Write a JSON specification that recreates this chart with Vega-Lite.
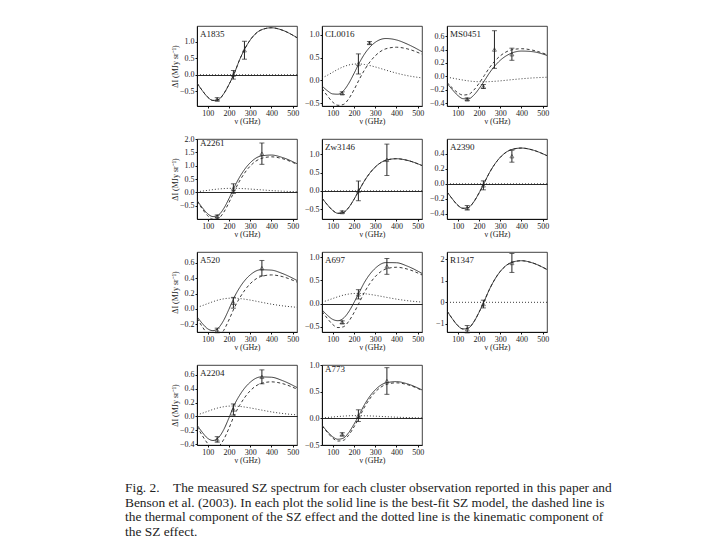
{
"$schema":"https://vega.github.io/schema/vega-lite/v6.json",
"padding":{"left":125,"top":25,"right":5,"bottom":0},
"config":{
 "view":{"stroke":"#111","strokeWidth":0.8},
 "mark":{"invalid":"filter"},
 "axis":{"labelFont":"Liberation Serif","labelFontSize":8,"labelColor":"#222","titleFont":"Liberation Serif","titleFontSize":8,"titleFontWeight":"normal","titleColor":"#222","domainColor":"#111","tickColor":"#111","tickSize":2,"grid":false,"labelPadding":1,"titlePadding":0,"labelOverlap":false,"labelFlush":false},
 "title":{"anchor":"start","frame":"group","offset":-13,"dx":3,"fontSize":9,"font":"Liberation Serif","fontWeight":"normal","color":"#222"}
},
"title":{"text":["Fig. 2.\u00a0\u00a0\u00a0\u00a0The measured SZ spectrum for each cluster observation reported in this paper and","Benson et al. (2003). In each plot the solid line is the best-fit SZ model, the dashed line is","the thermal component of the SZ effect and the dotted line is the kinematic component of","the SZ effect."],"orient":"bottom","anchor":"start","frame":"group","offset":17,"dx":-72,"fontSize":13.4,"lineHeight":14.5,"font":"Liberation Serif","fontWeight":"normal","color":"#222"},
"data":{"values":[
{"p":"A1835","nu":50,"tot":-0.25,"th":-0.25,"kin":0},{"p":"A1835","nu":75,"tot":-0.476,"th":-0.476,"kin":0},{"p":"A1835","nu":100,"tot":-0.671,"th":-0.671,"kin":0},{"p":"A1835","nu":125,"tot":-0.772,"th":-0.772,"kin":0},{"p":"A1835","nu":150,"tot":-0.749,"th":-0.749,"kin":0},{"p":"A1835","nu":175,"tot":-0.577,"th":-0.577,"kin":0},{"p":"A1835","nu":200,"tot":-0.296,"th":-0.296,"kin":0},{"p":"A1835","nu":225,"tot":0.04,"th":0.04,"kin":0},{"p":"A1835","nu":250,"tot":0.449,"th":0.449,"kin":0},{"p":"A1835","nu":300,"tot":1.048,"th":1.048,"kin":0},{"p":"A1835","nu":350,"tot":1.347,"th":1.347,"kin":0},{"p":"A1835","nu":400,"tot":1.417,"th":1.417,"kin":0},{"p":"A1835","nu":450,"tot":1.347,"th":1.347,"kin":0},{"p":"A1835","nu":520,"tot":1.118,"th":1.118,"kin":0},
{"p":"CL0016","nu":50,"tot":-0.122,"th":-0.176,"kin":0.054},{"p":"CL0016","nu":75,"tot":-0.224,"th":-0.336,"kin":0.112},{"p":"CL0016","nu":100,"tot":-0.295,"th":-0.473,"kin":0.178},{"p":"CL0016","nu":125,"tot":-0.302,"th":-0.545,"kin":0.243},{"p":"CL0016","nu":150,"tot":-0.231,"th":-0.528,"kin":0.297},{"p":"CL0016","nu":175,"tot":-0.071,"th":-0.407,"kin":0.336},{"p":"CL0016","nu":200,"tot":0.147,"th":-0.209,"kin":0.356},{"p":"CL0016","nu":225,"tot":0.38,"th":0.02,"kin":0.36},{"p":"CL0016","nu":250,"tot":0.578,"th":0.23,"kin":0.348},{"p":"CL0016","nu":300,"tot":0.832,"th":0.537,"kin":0.295},{"p":"CL0016","nu":350,"tot":0.916,"th":0.691,"kin":0.225},{"p":"CL0016","nu":400,"tot":0.885,"th":0.726,"kin":0.159},{"p":"CL0016","nu":450,"tot":0.796,"th":0.691,"kin":0.105},{"p":"CL0016","nu":520,"tot":0.628,"th":0.573,"kin":0.055},
{"p":"MS0451","nu":50,"tot":-0.102,"th":-0.09,"kin":-0.012},{"p":"MS0451","nu":75,"tot":-0.196,"th":-0.171,"kin":-0.025},{"p":"MS0451","nu":100,"tot":-0.281,"th":-0.241,"kin":-0.04},{"p":"MS0451","nu":125,"tot":-0.331,"th":-0.277,"kin":-0.054},{"p":"MS0451","nu":150,"tot":-0.335,"th":-0.269,"kin":-0.066},{"p":"MS0451","nu":175,"tot":-0.282,"th":-0.207,"kin":-0.075},{"p":"MS0451","nu":200,"tot":-0.185,"th":-0.106,"kin":-0.079},{"p":"MS0451","nu":225,"tot":-0.068,"th":0.012,"kin":-0.08},{"p":"MS0451","nu":250,"tot":0.054,"th":0.131,"kin":-0.077},{"p":"MS0451","nu":300,"tot":0.239,"th":0.305,"kin":-0.066},{"p":"MS0451","nu":350,"tot":0.342,"th":0.392,"kin":-0.05},{"p":"MS0451","nu":400,"tot":0.377,"th":0.412,"kin":-0.035},{"p":"MS0451","nu":450,"tot":0.369,"th":0.392,"kin":-0.023},{"p":"MS0451","nu":520,"tot":0.313,"th":0.325,"kin":-0.012},
{"p":"A2261","nu":50,"tot":-0.304,"th":-0.326,"kin":0.022},{"p":"A2261","nu":75,"tot":-0.575,"th":-0.622,"kin":0.047},{"p":"A2261","nu":100,"tot":-0.803,"th":-0.877,"kin":0.074},{"p":"A2261","nu":125,"tot":-0.909,"th":-1.01,"kin":0.101},{"p":"A2261","nu":150,"tot":-0.855,"th":-0.979,"kin":0.124},{"p":"A2261","nu":175,"tot":-0.615,"th":-0.755,"kin":0.14},{"p":"A2261","nu":200,"tot":-0.239,"th":-0.388,"kin":0.149},{"p":"A2261","nu":225,"tot":0.188,"th":0.038,"kin":0.15},{"p":"A2261","nu":250,"tot":0.567,"th":0.422,"kin":0.145},{"p":"A2261","nu":300,"tot":1.108,"th":0.985,"kin":0.123},{"p":"A2261","nu":350,"tot":1.36,"th":1.266,"kin":0.094},{"p":"A2261","nu":400,"tot":1.398,"th":1.332,"kin":0.066},{"p":"A2261","nu":450,"tot":1.31,"th":1.266,"kin":0.044},{"p":"A2261","nu":520,"tot":1.074,"th":1.051,"kin":0.023},
{"p":"Zw3146","nu":50,"tot":-0.198,"th":-0.198,"kin":0},{"p":"Zw3146","nu":75,"tot":-0.378,"th":-0.378,"kin":0},{"p":"Zw3146","nu":100,"tot":-0.533,"th":-0.533,"kin":0},{"p":"Zw3146","nu":125,"tot":-0.614,"th":-0.614,"kin":0},{"p":"Zw3146","nu":150,"tot":-0.595,"th":-0.595,"kin":0},{"p":"Zw3146","nu":175,"tot":-0.459,"th":-0.459,"kin":0},{"p":"Zw3146","nu":200,"tot":-0.236,"th":-0.236,"kin":0},{"p":"Zw3146","nu":225,"tot":0.025,"th":0.025,"kin":0},{"p":"Zw3146","nu":250,"tot":0.279,"th":0.279,"kin":0},{"p":"Zw3146","nu":300,"tot":0.651,"th":0.651,"kin":0},{"p":"Zw3146","nu":350,"tot":0.837,"th":0.837,"kin":0},{"p":"Zw3146","nu":400,"tot":0.88,"th":0.88,"kin":0},{"p":"Zw3146","nu":450,"tot":0.837,"th":0.837,"kin":0},{"p":"Zw3146","nu":520,"tot":0.694,"th":0.694,"kin":0},
{"p":"A2390","nu":50,"tot":-0.106,"th":-0.106,"kin":0},{"p":"A2390","nu":75,"tot":-0.201,"th":-0.201,"kin":0},{"p":"A2390","nu":100,"tot":-0.284,"th":-0.284,"kin":0},{"p":"A2390","nu":125,"tot":-0.327,"th":-0.327,"kin":0},{"p":"A2390","nu":150,"tot":-0.317,"th":-0.317,"kin":0},{"p":"A2390","nu":175,"tot":-0.244,"th":-0.244,"kin":0},{"p":"A2390","nu":200,"tot":-0.125,"th":-0.125,"kin":0},{"p":"A2390","nu":225,"tot":0.013,"th":0.013,"kin":0},{"p":"A2390","nu":250,"tot":0.152,"th":0.152,"kin":0},{"p":"A2390","nu":300,"tot":0.354,"th":0.354,"kin":0},{"p":"A2390","nu":350,"tot":0.455,"th":0.455,"kin":0},{"p":"A2390","nu":400,"tot":0.479,"th":0.479,"kin":0},{"p":"A2390","nu":450,"tot":0.455,"th":0.455,"kin":0},{"p":"A2390","nu":520,"tot":0.377,"th":0.377,"kin":0},
{"p":"A520","nu":50,"tot":-0.101,"th":-0.122,"kin":0.021},{"p":"A520","nu":75,"tot":-0.189,"th":-0.232,"kin":0.043},{"p":"A520","nu":100,"tot":-0.258,"th":-0.327,"kin":0.069},{"p":"A520","nu":125,"tot":-0.282,"th":-0.376,"kin":0.094},{"p":"A520","nu":150,"tot":-0.249,"th":-0.365,"kin":0.116},{"p":"A520","nu":175,"tot":-0.15,"th":-0.281,"kin":0.131},{"p":"A520","nu":200,"tot":-0.005,"th":-0.144,"kin":0.139},{"p":"A520","nu":225,"tot":0.152,"th":0.012,"kin":0.14},{"p":"A520","nu":250,"tot":0.275,"th":0.14,"kin":0.135},{"p":"A520","nu":300,"tot":0.442,"th":0.327,"kin":0.115},{"p":"A520","nu":350,"tot":0.509,"th":0.421,"kin":0.088},{"p":"A520","nu":400,"tot":0.504,"th":0.442,"kin":0.062},{"p":"A520","nu":450,"tot":0.462,"th":0.421,"kin":0.041},{"p":"A520","nu":520,"tot":0.37,"th":0.349,"kin":0.021},
{"p":"A697","nu":50,"tot":-0.133,"th":-0.166,"kin":0.033},{"p":"A697","nu":75,"tot":-0.249,"th":-0.317,"kin":0.068},{"p":"A697","nu":100,"tot":-0.338,"th":-0.447,"kin":0.109},{"p":"A697","nu":125,"tot":-0.367,"th":-0.515,"kin":0.148},{"p":"A697","nu":150,"tot":-0.317,"th":-0.499,"kin":0.182},{"p":"A697","nu":175,"tot":-0.18,"th":-0.385,"kin":0.205},{"p":"A697","nu":200,"tot":0.02,"th":-0.198,"kin":0.218},{"p":"A697","nu":225,"tot":0.242,"th":0.022,"kin":0.22},{"p":"A697","nu":250,"tot":0.461,"th":0.248,"kin":0.213},{"p":"A697","nu":300,"tot":0.759,"th":0.579,"kin":0.18},{"p":"A697","nu":350,"tot":0.882,"th":0.744,"kin":0.138},{"p":"A697","nu":400,"tot":0.879,"th":0.782,"kin":0.097},{"p":"A697","nu":450,"tot":0.808,"th":0.744,"kin":0.064},{"p":"A697","nu":520,"tot":0.65,"th":0.617,"kin":0.033},
{"p":"R1347","nu":50,"tot":-0.4,"th":-0.4,"kin":0},{"p":"R1347","nu":75,"tot":-0.763,"th":-0.763,"kin":0},{"p":"R1347","nu":100,"tot":-1.075,"th":-1.075,"kin":0},{"p":"R1347","nu":125,"tot":-1.238,"th":-1.238,"kin":0},{"p":"R1347","nu":150,"tot":-1.2,"th":-1.2,"kin":0},{"p":"R1347","nu":175,"tot":-0.925,"th":-0.925,"kin":0},{"p":"R1347","nu":200,"tot":-0.475,"th":-0.475,"kin":0},{"p":"R1347","nu":225,"tot":0.055,"th":0.055,"kin":0},{"p":"R1347","nu":250,"tot":0.613,"th":0.613,"kin":0},{"p":"R1347","nu":300,"tot":1.431,"th":1.431,"kin":0},{"p":"R1347","nu":350,"tot":1.839,"th":1.839,"kin":0},{"p":"R1347","nu":400,"tot":1.935,"th":1.935,"kin":0},{"p":"R1347","nu":450,"tot":1.839,"th":1.839,"kin":0},{"p":"R1347","nu":520,"tot":1.526,"th":1.526,"kin":0},
{"p":"A2204","nu":50,"tot":-0.122,"th":-0.144,"kin":0.022},{"p":"A2204","nu":75,"tot":-0.228,"th":-0.275,"kin":0.047},{"p":"A2204","nu":100,"tot":-0.313,"th":-0.387,"kin":0.074},{"p":"A2204","nu":125,"tot":-0.345,"th":-0.446,"kin":0.101},{"p":"A2204","nu":150,"tot":-0.308,"th":-0.432,"kin":0.124},{"p":"A2204","nu":175,"tot":-0.193,"th":-0.333,"kin":0.14},{"p":"A2204","nu":200,"tot":-0.022,"th":-0.171,"kin":0.149},{"p":"A2204","nu":225,"tot":0.164,"th":0.014,"kin":0.15},{"p":"A2204","nu":250,"tot":0.303,"th":0.158,"kin":0.145},{"p":"A2204","nu":300,"tot":0.492,"th":0.369,"kin":0.123},{"p":"A2204","nu":350,"tot":0.568,"th":0.474,"kin":0.094},{"p":"A2204","nu":400,"tot":0.564,"th":0.498,"kin":0.066},{"p":"A2204","nu":450,"tot":0.518,"th":0.474,"kin":0.044},{"p":"A2204","nu":520,"tot":0.416,"th":0.393,"kin":0.023},
{"p":"A773","nu":50,"tot":-0.131,"th":-0.138,"kin":0.007},{"p":"A773","nu":75,"tot":-0.246,"th":-0.262,"kin":0.016},{"p":"A773","nu":100,"tot":-0.345,"th":-0.37,"kin":0.025},{"p":"A773","nu":125,"tot":-0.392,"th":-0.426,"kin":0.034},{"p":"A773","nu":150,"tot":-0.372,"th":-0.413,"kin":0.041},{"p":"A773","nu":175,"tot":-0.271,"th":-0.318,"kin":0.047},{"p":"A773","nu":200,"tot":-0.113,"th":-0.163,"kin":0.05},{"p":"A773","nu":225,"tot":0.069,"th":0.019,"kin":0.05},{"p":"A773","nu":250,"tot":0.259,"th":0.211,"kin":0.048},{"p":"A773","nu":300,"tot":0.533,"th":0.492,"kin":0.041},{"p":"A773","nu":350,"tot":0.664,"th":0.633,"kin":0.031},{"p":"A773","nu":400,"tot":0.688,"th":0.666,"kin":0.022},{"p":"A773","nu":450,"tot":0.648,"th":0.633,"kin":0.015},{"p":"A773","nu":520,"tot":0.533,"th":0.525,"kin":0.008},
{"p":"A1835","nu":145,"v":-0.74,"lo":-0.79,"hi":-0.69},{"p":"A1835","nu":221,"v":0.0,"lo":-0.13,"hi":0.13},{"p":"A1835","nu":273,"v":0.74,"lo":0.47,"hi":1.01},
{"p":"CL0016","nu":145,"v":-0.28,"lo":-0.31,"hi":-0.25},{"p":"CL0016","nu":221,"v":0.36,"lo":0.14,"hi":0.58},{"p":"CL0016","nu":273,"v":0.82,"lo":0.79,"hi":0.85},
{"p":"MS0451","nu":145,"v":-0.34,"lo":-0.36,"hi":-0.32},{"p":"MS0451","nu":221,"v":-0.15,"lo":-0.18,"hi":-0.12},{"p":"MS0451","nu":273,"v":0.4,"lo":0.12,"hi":0.68},{"p":"MS0451","nu":355,"v":0.33,"lo":0.24,"hi":0.42},
{"p":"A2261","nu":145,"v":-0.9,"lo":-0.95,"hi":-0.85},{"p":"A2261","nu":221,"v":0.14,"lo":-0.04,"hi":0.32},{"p":"A2261","nu":355,"v":1.45,"lo":1.05,"hi":1.85},
{"p":"Zw3146","nu":145,"v":-0.58,"lo":-0.61,"hi":-0.55},{"p":"Zw3146","nu":221,"v":0.0,"lo":-0.27,"hi":0.27},{"p":"Zw3146","nu":355,"v":0.85,"lo":0.42,"hi":1.28},
{"p":"A2390","nu":145,"v":-0.32,"lo":-0.35,"hi":-0.29},{"p":"A2390","nu":221,"v":-0.02,"lo":-0.08,"hi":0.04},{"p":"A2390","nu":355,"v":0.37,"lo":0.29,"hi":0.45},
{"p":"A520","nu":145,"v":-0.28,"lo":-0.31,"hi":-0.25},{"p":"A520","nu":221,"v":0.08,"lo":0.01,"hi":0.15},{"p":"A520","nu":355,"v":0.53,"lo":0.43,"hi":0.63},
{"p":"A697","nu":145,"v":-0.4,"lo":-0.43,"hi":-0.37},{"p":"A697","nu":221,"v":0.2,"lo":0.1,"hi":0.3},{"p":"A697","nu":355,"v":0.8,"lo":0.63,"hi":0.97},
{"p":"R1347","nu":145,"v":-1.25,"lo":-1.42,"hi":-1.08},{"p":"R1347","nu":221,"v":-0.08,"lo":-0.26,"hi":0.1},{"p":"R1347","nu":355,"v":1.83,"lo":1.39,"hi":2.27},
{"p":"A2204","nu":145,"v":-0.33,"lo":-0.37,"hi":-0.29},{"p":"A2204","nu":221,"v":0.1,"lo":0.02,"hi":0.18},{"p":"A2204","nu":355,"v":0.57,"lo":0.47,"hi":0.67},
{"p":"A773","nu":145,"v":-0.3,"lo":-0.33,"hi":-0.27},{"p":"A773","nu":221,"v":0.05,"lo":-0.06,"hi":0.16},{"p":"A773","nu":355,"v":0.7,"lo":0.45,"hi":0.95}
]},
"columns":3,
"spacing":{"row":33,"column":25},
"bounds":"flush",
"concat":[
 {"width":100,"height":80,"title":{"text":"A1835"},"transform":[{"filter":"datum.p==='A1835'"}],
  "encoding":{"x":{"field":"nu","type":"quantitative","scale":{"domain":[50,520],"nice":false},"axis":{"values":[100,200,300,400,500],"title":"ν (GHz)"}}},
  "layer":[
   {"transform":[{"fold":["tot","th","kin"],"as":["s","val"]}],"mark":{"type":"line","interpolate":"monotone","clip":true,"strokeWidth":0.9,"color":"#222"},
    "encoding":{"y":{"field":"val","type":"quantitative","scale":{"domain":[-0.94,1.47],"nice":false,"zero":false},"axis":{"values":[-0.5,0,0.5,1],"format":".1f","title":"ΔI (MJy sr⁻¹)","grid":true,"gridColor":"#111","gridWidth":0.9,"gridOpacity":{"condition":{"test":"datum.value === 0","value":1},"value":0}}},
     "strokeDash":{"field":"s","type":"nominal","scale":{"domain":["tot","th","kin"],"range":[[1,0],[3,2.5],[1,2]]},"legend":null}}},
   {"mark":{"type":"errorbar","ticks":{"size":5},"color":"#222"},"encoding":{"y":{"field":"lo","type":"quantitative","scale":{"domain":[-0.94,1.47],"nice":false,"zero":false},"axis":{"values":[-0.5,0,0.5,1],"format":".1f","title":"ΔI (MJy sr⁻¹)","grid":true,"gridColor":"#111","gridWidth":0.9,"gridOpacity":{"condition":{"test":"datum.value === 0","value":1},"value":0}}},"y2":{"field":"hi"}}},
   {"mark":{"type":"point","shape":"triangle-up","size":16,"color":"#222","strokeWidth":0.8,"filled":false},"encoding":{"y":{"field":"v","type":"quantitative","scale":{"domain":[-0.94,1.47],"nice":false,"zero":false},"axis":{"values":[-0.5,0,0.5,1],"format":".1f","title":"ΔI (MJy sr⁻¹)","grid":true,"gridColor":"#111","gridWidth":0.9,"gridOpacity":{"condition":{"test":"datum.value === 0","value":1},"value":0}}}}}
  ]},
 {"width":100,"height":80,"title":{"text":"CL0016"},"transform":[{"filter":"datum.p==='CL0016'"}],
  "encoding":{"x":{"field":"nu","type":"quantitative","scale":{"domain":[50,520],"nice":false},"axis":{"values":[100,200,300,400,500],"title":"ν (GHz)"}}},
  "layer":[
   {"transform":[{"fold":["tot","th","kin"],"as":["s","val"]}],"mark":{"type":"line","interpolate":"monotone","clip":true,"strokeWidth":0.9,"color":"#222"},
    "encoding":{"y":{"field":"val","type":"quantitative","scale":{"domain":[-0.56,1.19],"nice":false,"zero":false},"axis":{"values":[-0.5,0,0.5,1],"format":".1f","title":null}},
     "strokeDash":{"field":"s","type":"nominal","scale":{"domain":["tot","th","kin"],"range":[[1,0],[3,2.5],[1,2]]},"legend":null}}},
   {"mark":{"type":"errorbar","ticks":{"size":5},"color":"#222"},"encoding":{"y":{"field":"lo","type":"quantitative","scale":{"domain":[-0.56,1.19],"nice":false,"zero":false},"axis":{"values":[-0.5,0,0.5,1],"format":".1f","title":null}},"y2":{"field":"hi"}}},
   {"mark":{"type":"point","shape":"triangle-up","size":16,"color":"#222","strokeWidth":0.8,"filled":false},"encoding":{"y":{"field":"v","type":"quantitative","scale":{"domain":[-0.56,1.19],"nice":false,"zero":false},"axis":{"values":[-0.5,0,0.5,1],"format":".1f","title":null}}}}
  ]},
 {"width":100,"height":80,"title":{"text":"MS0451"},"transform":[{"filter":"datum.p==='MS0451'"}],
  "encoding":{"x":{"field":"nu","type":"quantitative","scale":{"domain":[50,520],"nice":false},"axis":{"values":[100,200,300,400,500],"title":"ν (GHz)"}}},
  "layer":[
   {"transform":[{"fold":["tot","th","kin"],"as":["s","val"]}],"mark":{"type":"line","interpolate":"monotone","clip":true,"strokeWidth":0.9,"color":"#222"},
    "encoding":{"y":{"field":"val","type":"quantitative","scale":{"domain":[-0.44,0.75],"nice":false,"zero":false},"axis":{"values":[-0.4,-0.2,0,0.2,0.4,0.6],"format":".1f","title":null}},
     "strokeDash":{"field":"s","type":"nominal","scale":{"domain":["tot","th","kin"],"range":[[1,0],[3,2.5],[1,2]]},"legend":null}}},
   {"mark":{"type":"errorbar","ticks":{"size":5},"color":"#222"},"encoding":{"y":{"field":"lo","type":"quantitative","scale":{"domain":[-0.44,0.75],"nice":false,"zero":false},"axis":{"values":[-0.4,-0.2,0,0.2,0.4,0.6],"format":".1f","title":null}},"y2":{"field":"hi"}}},
   {"mark":{"type":"point","shape":"triangle-up","size":16,"color":"#222","strokeWidth":0.8,"filled":false},"encoding":{"y":{"field":"v","type":"quantitative","scale":{"domain":[-0.44,0.75],"nice":false,"zero":false},"axis":{"values":[-0.4,-0.2,0,0.2,0.4,0.6],"format":".1f","title":null}}}}
  ]},
 {"width":100,"height":80,"title":{"text":"A2261"},"transform":[{"filter":"datum.p==='A2261'"}],
  "encoding":{"x":{"field":"nu","type":"quantitative","scale":{"domain":[50,520],"nice":false},"axis":{"values":[100,200,300,400,500],"title":"ν (GHz)"}}},
  "layer":[
   {"transform":[{"fold":["tot","th","kin"],"as":["s","val"]}],"mark":{"type":"line","interpolate":"monotone","clip":true,"strokeWidth":0.9,"color":"#222"},
    "encoding":{"y":{"field":"val","type":"quantitative","scale":{"domain":[-1.0,2.0],"nice":false,"zero":false},"axis":{"values":[-0.5,0,0.5,1,1.5,2],"format":".1f","title":"ΔI (MJy sr⁻¹)","grid":true,"gridColor":"#111","gridWidth":0.9,"gridOpacity":{"condition":{"test":"datum.value === 0","value":1},"value":0}}},
     "strokeDash":{"field":"s","type":"nominal","scale":{"domain":["tot","th","kin"],"range":[[1,0],[3,2.5],[1,2]]},"legend":null}}},
   {"mark":{"type":"errorbar","ticks":{"size":5},"color":"#222"},"encoding":{"y":{"field":"lo","type":"quantitative","scale":{"domain":[-1.0,2.0],"nice":false,"zero":false},"axis":{"values":[-0.5,0,0.5,1,1.5,2],"format":".1f","title":"ΔI (MJy sr⁻¹)","grid":true,"gridColor":"#111","gridWidth":0.9,"gridOpacity":{"condition":{"test":"datum.value === 0","value":1},"value":0}}},"y2":{"field":"hi"}}},
   {"mark":{"type":"point","shape":"triangle-up","size":16,"color":"#222","strokeWidth":0.8,"filled":false},"encoding":{"y":{"field":"v","type":"quantitative","scale":{"domain":[-1.0,2.0],"nice":false,"zero":false},"axis":{"values":[-0.5,0,0.5,1,1.5,2],"format":".1f","title":"ΔI (MJy sr⁻¹)","grid":true,"gridColor":"#111","gridWidth":0.9,"gridOpacity":{"condition":{"test":"datum.value === 0","value":1},"value":0}}}}}
  ]},
 {"width":100,"height":80,"title":{"text":"Zw3146"},"transform":[{"filter":"datum.p==='Zw3146'"}],
  "encoding":{"x":{"field":"nu","type":"quantitative","scale":{"domain":[50,520],"nice":false},"axis":{"values":[100,200,300,400,500],"title":"ν (GHz)"}}},
  "layer":[
   {"transform":[{"fold":["tot","th","kin"],"as":["s","val"]}],"mark":{"type":"line","interpolate":"monotone","clip":true,"strokeWidth":0.9,"color":"#222"},
    "encoding":{"y":{"field":"val","type":"quantitative","scale":{"domain":[-0.77,1.42],"nice":false,"zero":false},"axis":{"values":[-0.5,0,0.5,1],"format":".1f","title":null,"grid":true,"gridColor":"#111","gridWidth":0.9,"gridOpacity":{"condition":{"test":"datum.value === 0","value":1},"value":0}}},
     "strokeDash":{"field":"s","type":"nominal","scale":{"domain":["tot","th","kin"],"range":[[1,0],[3,2.5],[1,2]]},"legend":null}}},
   {"mark":{"type":"errorbar","ticks":{"size":5},"color":"#222"},"encoding":{"y":{"field":"lo","type":"quantitative","scale":{"domain":[-0.77,1.42],"nice":false,"zero":false},"axis":{"values":[-0.5,0,0.5,1],"format":".1f","title":null,"grid":true,"gridColor":"#111","gridWidth":0.9,"gridOpacity":{"condition":{"test":"datum.value === 0","value":1},"value":0}}},"y2":{"field":"hi"}}},
   {"mark":{"type":"point","shape":"triangle-up","size":16,"color":"#222","strokeWidth":0.8,"filled":false},"encoding":{"y":{"field":"v","type":"quantitative","scale":{"domain":[-0.77,1.42],"nice":false,"zero":false},"axis":{"values":[-0.5,0,0.5,1],"format":".1f","title":null,"grid":true,"gridColor":"#111","gridWidth":0.9,"gridOpacity":{"condition":{"test":"datum.value === 0","value":1},"value":0}}}}}
  ]},
 {"width":100,"height":80,"title":{"text":"A2390"},"transform":[{"filter":"datum.p==='A2390'"}],
  "encoding":{"x":{"field":"nu","type":"quantitative","scale":{"domain":[50,520],"nice":false},"axis":{"values":[100,200,300,400,500],"title":"ν (GHz)"}}},
  "layer":[
   {"transform":[{"fold":["tot","th","kin"],"as":["s","val"]}],"mark":{"type":"line","interpolate":"monotone","clip":true,"strokeWidth":0.9,"color":"#222"},
    "encoding":{"y":{"field":"val","type":"quantitative","scale":{"domain":[-0.47,0.6],"nice":false,"zero":false},"axis":{"values":[-0.4,-0.2,0,0.2,0.4],"format":".1f","title":null,"grid":true,"gridColor":"#111","gridWidth":0.9,"gridOpacity":{"condition":{"test":"datum.value === 0","value":1},"value":0}}},
     "strokeDash":{"field":"s","type":"nominal","scale":{"domain":["tot","th","kin"],"range":[[1,0],[3,2.5],[1,2]]},"legend":null}}},
   {"mark":{"type":"errorbar","ticks":{"size":5},"color":"#222"},"encoding":{"y":{"field":"lo","type":"quantitative","scale":{"domain":[-0.47,0.6],"nice":false,"zero":false},"axis":{"values":[-0.4,-0.2,0,0.2,0.4],"format":".1f","title":null,"grid":true,"gridColor":"#111","gridWidth":0.9,"gridOpacity":{"condition":{"test":"datum.value === 0","value":1},"value":0}}},"y2":{"field":"hi"}}},
   {"mark":{"type":"point","shape":"triangle-up","size":16,"color":"#222","strokeWidth":0.8,"filled":false},"encoding":{"y":{"field":"v","type":"quantitative","scale":{"domain":[-0.47,0.6],"nice":false,"zero":false},"axis":{"values":[-0.4,-0.2,0,0.2,0.4],"format":".1f","title":null,"grid":true,"gridColor":"#111","gridWidth":0.9,"gridOpacity":{"condition":{"test":"datum.value === 0","value":1},"value":0}}}}}
  ]},
 {"width":100,"height":80,"title":{"text":"A520"},"transform":[{"filter":"datum.p==='A520'"}],
  "encoding":{"x":{"field":"nu","type":"quantitative","scale":{"domain":[50,520],"nice":false},"axis":{"values":[100,200,300,400,500],"title":"ν (GHz)"}}},
  "layer":[
   {"transform":[{"fold":["tot","th","kin"],"as":["s","val"]}],"mark":{"type":"line","interpolate":"monotone","clip":true,"strokeWidth":0.9,"color":"#222"},
    "encoding":{"y":{"field":"val","type":"quantitative","scale":{"domain":[-0.3,0.74],"nice":false,"zero":false},"axis":{"values":[-0.2,0,0.2,0.4,0.6],"format":".1f","title":"ΔI (MJy sr⁻¹)"}},
     "strokeDash":{"field":"s","type":"nominal","scale":{"domain":["tot","th","kin"],"range":[[1,0],[3,2.5],[1,2]]},"legend":null}}},
   {"mark":{"type":"errorbar","ticks":{"size":5},"color":"#222"},"encoding":{"y":{"field":"lo","type":"quantitative","scale":{"domain":[-0.3,0.74],"nice":false,"zero":false},"axis":{"values":[-0.2,0,0.2,0.4,0.6],"format":".1f","title":"ΔI (MJy sr⁻¹)"}},"y2":{"field":"hi"}}},
   {"mark":{"type":"point","shape":"triangle-up","size":16,"color":"#222","strokeWidth":0.8,"filled":false},"encoding":{"y":{"field":"v","type":"quantitative","scale":{"domain":[-0.3,0.74],"nice":false,"zero":false},"axis":{"values":[-0.2,0,0.2,0.4,0.6],"format":".1f","title":"ΔI (MJy sr⁻¹)"}}}}
  ]},
 {"width":100,"height":80,"title":{"text":"A697"},"transform":[{"filter":"datum.p==='A697'"}],
  "encoding":{"x":{"field":"nu","type":"quantitative","scale":{"domain":[50,520],"nice":false},"axis":{"values":[100,200,300,400,500],"title":"ν (GHz)"}}},
  "layer":[
   {"transform":[{"fold":["tot","th","kin"],"as":["s","val"]}],"mark":{"type":"line","interpolate":"monotone","clip":true,"strokeWidth":0.9,"color":"#222"},
    "encoding":{"y":{"field":"val","type":"quantitative","scale":{"domain":[-0.61,1.11],"nice":false,"zero":false},"axis":{"values":[-0.5,0,0.5,1],"format":".1f","title":null,"grid":true,"gridColor":"#111","gridWidth":0.9,"gridOpacity":{"condition":{"test":"datum.value === 0","value":1},"value":0}}},
     "strokeDash":{"field":"s","type":"nominal","scale":{"domain":["tot","th","kin"],"range":[[1,0],[3,2.5],[1,2]]},"legend":null}}},
   {"mark":{"type":"errorbar","ticks":{"size":5},"color":"#222"},"encoding":{"y":{"field":"lo","type":"quantitative","scale":{"domain":[-0.61,1.11],"nice":false,"zero":false},"axis":{"values":[-0.5,0,0.5,1],"format":".1f","title":null,"grid":true,"gridColor":"#111","gridWidth":0.9,"gridOpacity":{"condition":{"test":"datum.value === 0","value":1},"value":0}}},"y2":{"field":"hi"}}},
   {"mark":{"type":"point","shape":"triangle-up","size":16,"color":"#222","strokeWidth":0.8,"filled":false},"encoding":{"y":{"field":"v","type":"quantitative","scale":{"domain":[-0.61,1.11],"nice":false,"zero":false},"axis":{"values":[-0.5,0,0.5,1],"format":".1f","title":null,"grid":true,"gridColor":"#111","gridWidth":0.9,"gridOpacity":{"condition":{"test":"datum.value === 0","value":1},"value":0}}}}}
  ]},
 {"width":100,"height":80,"title":{"text":"R1347"},"transform":[{"filter":"datum.p==='R1347'"}],
  "encoding":{"x":{"field":"nu","type":"quantitative","scale":{"domain":[50,520],"nice":false},"axis":{"values":[100,200,300,400,500],"title":"ν (GHz)"}}},
  "layer":[
   {"transform":[{"fold":["tot","th","kin"],"as":["s","val"]}],"mark":{"type":"line","interpolate":"monotone","clip":true,"strokeWidth":0.9,"color":"#222"},
    "encoding":{"y":{"field":"val","type":"quantitative","scale":{"domain":[-1.38,2.34],"nice":false,"zero":false},"axis":{"values":[-1,0,1,2],"format":"d","title":null}},
     "strokeDash":{"field":"s","type":"nominal","scale":{"domain":["tot","th","kin"],"range":[[1,0],[3,2.5],[1,2]]},"legend":null}}},
   {"mark":{"type":"errorbar","ticks":{"size":5},"color":"#222"},"encoding":{"y":{"field":"lo","type":"quantitative","scale":{"domain":[-1.38,2.34],"nice":false,"zero":false},"axis":{"values":[-1,0,1,2],"format":"d","title":null}},"y2":{"field":"hi"}}},
   {"mark":{"type":"point","shape":"triangle-up","size":16,"color":"#222","strokeWidth":0.8,"filled":false},"encoding":{"y":{"field":"v","type":"quantitative","scale":{"domain":[-1.38,2.34],"nice":false,"zero":false},"axis":{"values":[-1,0,1,2],"format":"d","title":null}}}}
  ]},
 {"width":100,"height":80,"title":{"text":"A2204"},"transform":[{"filter":"datum.p==='A2204'"}],
  "encoding":{"x":{"field":"nu","type":"quantitative","scale":{"domain":[50,520],"nice":false},"axis":{"values":[100,200,300,400,500],"title":"ν (GHz)"}}},
  "layer":[
   {"transform":[{"fold":["tot","th","kin"],"as":["s","val"]}],"mark":{"type":"line","interpolate":"monotone","clip":true,"strokeWidth":0.9,"color":"#222"},
    "encoding":{"y":{"field":"val","type":"quantitative","scale":{"domain":[-0.41,0.74],"nice":false,"zero":false},"axis":{"values":[-0.4,-0.2,0,0.2,0.4,0.6],"format":".1f","title":"ΔI (MJy sr⁻¹)","grid":true,"gridColor":"#111","gridWidth":0.9,"gridOpacity":{"condition":{"test":"datum.value === 0","value":1},"value":0}}},
     "strokeDash":{"field":"s","type":"nominal","scale":{"domain":["tot","th","kin"],"range":[[1,0],[3,2.5],[1,2]]},"legend":null}}},
   {"mark":{"type":"errorbar","ticks":{"size":5},"color":"#222"},"encoding":{"y":{"field":"lo","type":"quantitative","scale":{"domain":[-0.41,0.74],"nice":false,"zero":false},"axis":{"values":[-0.4,-0.2,0,0.2,0.4,0.6],"format":".1f","title":"ΔI (MJy sr⁻¹)","grid":true,"gridColor":"#111","gridWidth":0.9,"gridOpacity":{"condition":{"test":"datum.value === 0","value":1},"value":0}}},"y2":{"field":"hi"}}},
   {"mark":{"type":"point","shape":"triangle-up","size":16,"color":"#222","strokeWidth":0.8,"filled":false},"encoding":{"y":{"field":"v","type":"quantitative","scale":{"domain":[-0.41,0.74],"nice":false,"zero":false},"axis":{"values":[-0.4,-0.2,0,0.2,0.4,0.6],"format":".1f","title":"ΔI (MJy sr⁻¹)","grid":true,"gridColor":"#111","gridWidth":0.9,"gridOpacity":{"condition":{"test":"datum.value === 0","value":1},"value":0}}}}}
  ]},
 {"width":100,"height":80,"title":{"text":"A773"},"transform":[{"filter":"datum.p==='A773'"}],
  "encoding":{"x":{"field":"nu","type":"quantitative","scale":{"domain":[50,520],"nice":false},"axis":{"values":[100,200,300,400,500],"title":"ν (GHz)"}}},
  "layer":[
   {"transform":[{"fold":["tot","th","kin"],"as":["s","val"]}],"mark":{"type":"line","interpolate":"monotone","clip":true,"strokeWidth":0.9,"color":"#222"},
    "encoding":{"y":{"field":"val","type":"quantitative","scale":{"domain":[-0.5,1.0],"nice":false,"zero":false},"axis":{"values":[-0.5,0,0.5,1],"format":".1f","title":null,"grid":true,"gridColor":"#111","gridWidth":0.9,"gridOpacity":{"condition":{"test":"datum.value === 0","value":1},"value":0}}},
     "strokeDash":{"field":"s","type":"nominal","scale":{"domain":["tot","th","kin"],"range":[[1,0],[3,2.5],[1,2]]},"legend":null}}},
   {"mark":{"type":"errorbar","ticks":{"size":5},"color":"#222"},"encoding":{"y":{"field":"lo","type":"quantitative","scale":{"domain":[-0.5,1.0],"nice":false,"zero":false},"axis":{"values":[-0.5,0,0.5,1],"format":".1f","title":null,"grid":true,"gridColor":"#111","gridWidth":0.9,"gridOpacity":{"condition":{"test":"datum.value === 0","value":1},"value":0}}},"y2":{"field":"hi"}}},
   {"mark":{"type":"point","shape":"triangle-up","size":16,"color":"#222","strokeWidth":0.8,"filled":false},"encoding":{"y":{"field":"v","type":"quantitative","scale":{"domain":[-0.5,1.0],"nice":false,"zero":false},"axis":{"values":[-0.5,0,0.5,1],"format":".1f","title":null,"grid":true,"gridColor":"#111","gridWidth":0.9,"gridOpacity":{"condition":{"test":"datum.value === 0","value":1},"value":0}}}}}
  ]}
]
}
